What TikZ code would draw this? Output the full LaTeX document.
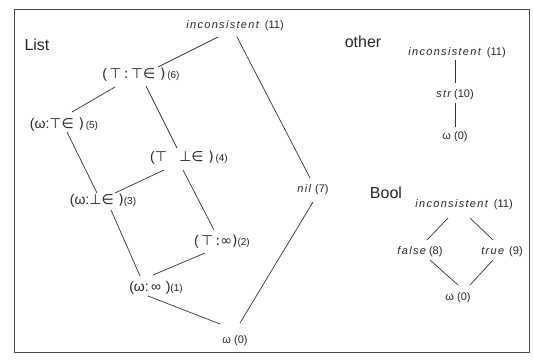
\documentclass[tikz,border=0pt]{standalone}
\usepackage{fontspec}
\setmainfont{Liberation Sans}
\newfontfamily\sym{DejaVu Sans}
\newfontfamily\itl[LetterSpace=12]{Liberation Sans}
\usetikzlibrary{calc}
\newcommand\itw[1]{{\itl\itshape #1}}
\newcommand\nmb[1]{{\fontsize{10}{12}\selectfont(#1)}}
\newcommand\lgsz[1]{{\fontsize{14}{16}\selectfont #1}}
\begin{document}
\begin{tikzpicture}[x=1pt,y=-1pt,
  every node/.style={inner sep=0pt, text=black!85, font=\fontsize{11}{13}\selectfont},
  lbl/.style={font=\fontsize{16}{18}\selectfont},
  edge/.style={line width=0.7pt, draw=black!80}]
\useasboundingbox (0,0) rectangle (533,362);
\draw[line width=0.9pt, draw=black!70] (14,9) rectangle (529,352);
% labels
\node[lbl] (lList) at (37,45) {List};
\node[lbl] (lOther) at (363,42) {other};
\node[lbl] (lBool) at (386,193) {Bool};
% List lattice
\node (inc) at (235,26) {\itw{inconsistent}\hspace{6pt}(11)};
\node (n6) at (141,75) {\lgsz{(\,\sym{⊤}\,:\,\sym{⊤∈}\,\,)}\,\nmb{6}};
\node (n5) at (64,125) {\lgsz{(ω:\sym{⊤∈}\,\,)}\,\nmb{5}};
\node (n4) at (189,158) {\lgsz{(\sym{⊤}\;\; \sym{⊥∈}\,\,)}\,\nmb{4}};
\node (n3) at (103,201) {\lgsz{(ω:\sym{⊥∈}\,\,)}\nmb{3}};
\node (n2) at (222,242) {\lgsz{(\,\sym{⊤}\,:∞)}\nmb{2}};
\node (n1) at (156,288) {\lgsz{(ω:\,∞\,\,)}\nmb{1}};
\node (w0) at (235,341) {ω (0)};
\node (nil) at (313,190) {\itw{nil}\hspace{4pt}(7)};
\draw[edge] ($(inc)+(-17,11)$) -- ($(n6)+(17,-8)$);
\draw[edge] ($(inc)+(2,11)$) -- ($(nil)+(-3,-12)$);
\draw[edge] ($(n6)+(-26,12)$) -- ($(n5)+(8,-13)$);
\draw[edge] ($(n6)+(5,11)$) -- ($(n4)+(-12,-10)$);
\draw[edge] ($(n5)+(3,7)$) -- ($(n3)+(-6,-8)$);
\draw[edge] ($(n4)+(-25,12)$) -- ($(n3)+(12,-8)$);
\draw[edge] ($(n4)+(-6,12)$) -- ($(n2)+(-8,-12)$);
\draw[edge] ($(n3)+(8,9)$) -- ($(n1)+(-16,-12)$);
\draw[edge] ($(n2)+(-17,11)$) -- ($(n1)+(-3,-13)$);
\draw[edge] ($(n1)+(-8,8)$) -- ($(w0)+(-15,-17)$);
\draw[edge] ($(nil)+(0,12)$) -- ($(w0)+(5,-18)$);
% other
\node (oinc) at (457,53) {\itw{inconsistent}\hspace{6pt}(11)};
\node (ostr) at (455,95) {\itw{str} (10)};
\node (ow) at (455,137) {ω (0)};
\draw[edge] ($(oinc)+(-2,7)$) -- ($(ostr)+(0,-12)$);
\draw[edge] ($(ostr)+(0,8)$) -- ($(ow)+(0,-10)$);
% Bool
\node (binc) at (464,205) {\itw{inconsistent}\hspace{6pt}(11)};
\node (bf) at (420,252) {\itw{false} (8)};
\node (bt) at (502,252) {\itw{true}\hspace{5pt}(9)};
\node (bw) at (458,298) {ω (0)};
\draw[edge] ($(binc)+(-16,13)$) -- ($(bf)+(7,-12)$);
\draw[edge] ($(binc)+(6,13)$) -- ($(bt)+(-9,-12)$);
\draw[edge] ($(bf)+(10,8)$) -- ($(bw)+(0,-13)$);
\draw[edge] ($(bt)+(-9,8)$) -- ($(bw)+(12,-13)$);
\end{tikzpicture}
\end{document}
